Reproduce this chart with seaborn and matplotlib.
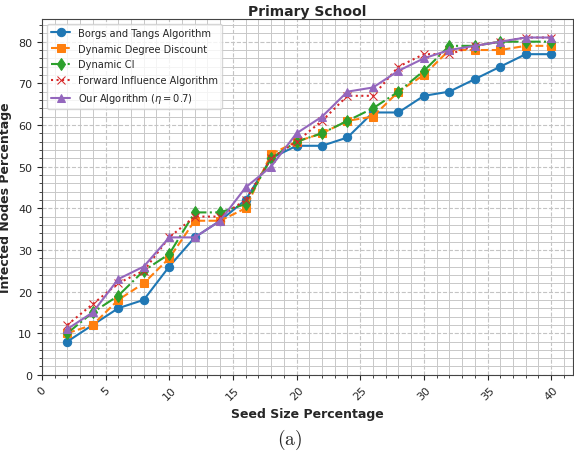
import matplotlib
matplotlib.use("Agg")
import matplotlib.pyplot as plt
from matplotlib.ticker import MultipleLocator
import seaborn as sns

# Data
seed_size = [2, 4, 6, 8, 10, 12, 14, 16, 18, 20, 22, 24, 26, 28, 30, 32, 34, 36, 38, 40]
borgs_tangs = [8, 12, 16, 18, 26, 33, 37, 42, 52, 55, 55, 57, 63, 63, 67, 68, 71, 74, 77, 77]
dyn_degree_discount = [10, 12, 18, 22, 28, 37, 37, 40, 53, 56, 58, 61, 62, 68, 72, 78, 78, 78, 79, 79]
dyn_ci = [10, 15, 19, 25, 29, 39, 39, 41, 52, 56, 58, 61, 64, 68, 73, 79, 79, 80, 80, 80]
forward_influence = [12, 17, 22, 25, 33, 38, 38, 42, 52, 56, 61, 67, 67, 74, 77, 77, 79, 80, 81, 81]
our_algorithm = [11, 15, 23, 26, 33, 33, 37, 45, 50, 58, 62, 68, 69, 73, 76, 78, 79, 80, 81, 81]

series = [
    ("Borgs and Tangs Algorithm", borgs_tangs, "o", "-", "#1f77b4"),
    ("Dynamic Degree Discount", dyn_degree_discount, "s", "--", "#ff7f0e"),
    ("Dynamic CI", dyn_ci, "d", "-.", "#2ca02c"),
    ("Forward Influence Algorithm", forward_influence, "x", ":", "#d62728"),
    (r"Our Algorithm ($\eta = 0.7$)", our_algorithm, "^", "-", "#9467bd"),
]

sns.set_style("ticks")
plt.rcParams["font.family"] = ["DejaVu Sans"]
plt.rcParams["mathtext.fontset"] = "dejavusans"

fig = plt.figure(figsize=(5.74, 4.6), dpi=100)
ax = fig.add_axes([0.073, 0.183, 0.925, 0.774])

for name, vals, mk, ls, col in series:
    sns.lineplot(x=seed_size, y=vals, ax=ax, marker=mk, linestyle=ls, color=col,
                 label=name, markersize=6, markeredgecolor=col, linewidth=1.5)

ax.set_xlim(0, 41.7)
ax.set_ylim(0, 85.5)
ax.xaxis.set_major_locator(MultipleLocator(5))
ax.xaxis.set_minor_locator(MultipleLocator(1))
ax.yaxis.set_major_locator(MultipleLocator(10))
ax.yaxis.set_minor_locator(MultipleLocator(2))
ax.grid(which="major", linestyle="--", color="#c4c4c4", linewidth=0.8)
ax.grid(which="minor", linestyle="-", color="#c8c8c8", linewidth=0.7)
ax.set_axisbelow(True)
ax.tick_params(axis="x", labelrotation=45, labelsize=8)
ax.tick_params(axis="y", labelsize=8)
for sp in ax.spines.values():
    sp.set_color("#444444")

ax.set_title("Primary School", fontsize=10, fontweight="bold", pad=3)
ax.set_xlabel("Seed Size Percentage", fontsize=9, fontweight="bold")
ax.set_ylabel("Infected Nodes Percentage", fontsize=9, fontweight="bold")
ax.legend(loc="upper left", fontsize=7.1, framealpha=0.8, labelspacing=0.6,
          handlelength=2.0, borderaxespad=0.5)

fig.text(0.505, 0.043, r"$\mathrm{(a)}$", ha="center", va="center", fontsize=14,
         math_fontfamily="cm")

fig.savefig("out.png", dpi=100)
